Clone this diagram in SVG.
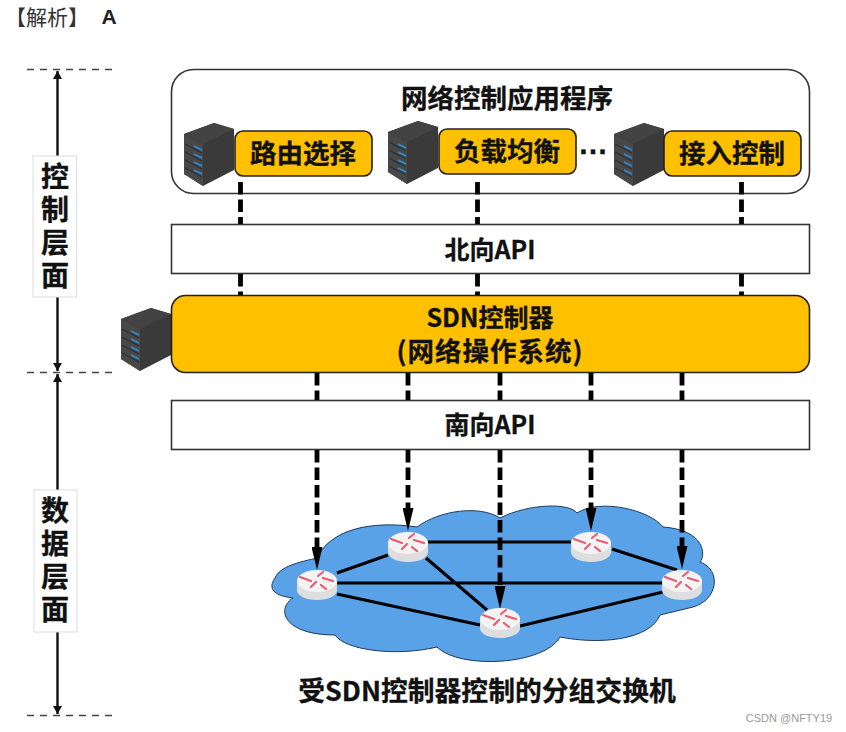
<svg xmlns="http://www.w3.org/2000/svg" width="846" height="732" viewBox="0 0 846 732">
<style>
text{font-family:"Noto Sans CJK SC","Liberation Sans",sans-serif;font-weight:700;fill:#111;text-anchor:middle;stroke:#111;stroke-width:.3}
.box{fill:#fff;stroke:#333;stroke-width:1.6}
.yel{fill:#ffc000;stroke:#222;stroke-width:1.6}
.dash{stroke:#000;stroke-width:4.8;stroke-dasharray:12.5 5;fill:none}
.link{stroke:#000;stroke-width:3.2;fill:none}
.guide{stroke:#444;stroke-width:1.6;stroke-dasharray:7 6;fill:none}
.axis{stroke:#111;stroke-width:2.4;fill:none}
.t26{font-size:26.500px}
.api{font-size:25px}
.side{font-size:28px;writing-mode:vertical-rl;letter-spacing:5px}
</style>
<defs>
<marker id="axisArrow" markerUnits="userSpaceOnUse" markerWidth="10" markerHeight="10" refX="8" refY="4.500" orient="auto-start-reverse" viewBox="0 0 10 9"><path d="M0 0L8 4.500L0 9Z" fill="#111"/></marker>
<marker id="dashArrow" markerUnits="userSpaceOnUse" markerWidth="23" markerHeight="11" refX="0" refY="5.500" orient="auto" viewBox="0 0 23 11"><path d="M0 0L23 5.500L0 11Z" fill="#000"/></marker>
<symbol id="server" viewBox="0 0 52 64" width="52" height="64" overflow="visible">
<path d="M0 11L30 0L50 6L50 47L19 63L0 51Z" fill="#3a3a3a"/>
<path d="M0 11L19 21L19 63L0 51Z" fill="#484848"/>
<path d="M19 21L50 6L30 0L0 11Z" fill="#434343"/>
<path stroke="#2f2f2f" stroke-width="1.200" d="M1 21L18 30M1 29L18 38M1 37L18 46M1 45L18 54"/>
<path stroke="#2b8ecb" stroke-width="1.700" d="M10 23L18 27M10 31L18 35M10 39L18 43M10 47L18 51"/>
</symbol>
<symbol id="router" viewBox="0 0 40 30" width="40" height="30" overflow="visible">
<path d="M0 11V20C0 26 9 30 20 30S40 26 40 20V11Z" fill="#dedede"/>
<ellipse cx="20" cy="11" rx="20" ry="11" fill="#f3f3f3"/>
<path stroke="#ea5a70" stroke-width="2.200" stroke-linecap="round" fill="none" d="M3 7L14 11M36 11L26 8M21 6L26 2M14 17L19 12M29 19L24 15"/>
</symbol>
</defs>
<rect width="846" height="732" fill="#fff"/>
<g id="header">
<text x="47" y="25" style="font-size:21px;font-weight:400;fill:#333;stroke:none">【解析】</text>
<text x="109" y="24" style="font-size:21px;font-family:'Liberation Sans',sans-serif;fill:#222;stroke:none">A</text>
</g>
<g id="guides">
<path class="guide" d="M27 69.500H113M27 372.500H113M27 715.500H113"/>
<path class="axis" d="M57.500 71V156M57.500 297V371" marker-start="url(#axisArrow)" marker-end="url(#axisArrow)"/>
<path class="axis" d="M57.500 374V490M57.500 632V714" marker-start="url(#axisArrow)" marker-end="url(#axisArrow)"/>
</g>
<g id="control-plane-label">
<rect x="33" y="156" width="43.500" height="141" fill="#fff" stroke="#ddd"/>
<text class="side" x="55" y="228">控制层面</text>
</g>
<g id="data-plane-label">
<rect x="34" y="490" width="43" height="142" fill="#fff" stroke="#ddd"/>
<text class="side" x="55" y="562">数据层面</text>
</g>
<g id="cloud">
<path d="M275 578C280 566 300 562 317 558C330 530 370 520 417 527C440 510 480 505 500 518C530 503 570 503 577 513C600 498 650 510 663 527C705 530 706 555 700 562C722 570 718 600 693 607L660 615C650 640 600 645 560 637C545 665 460 670 437 647C395 657 345 650 335 635C285 635 275 610 293 598C268 595 270 585 275 578Z" fill="#5aa2e8" stroke="#1f3a5a" stroke-width="1"/>
</g>
<g id="app-layer">
<rect class="box" x="171.500" y="69.500" width="638" height="124" rx="22"/>
<text class="t26" x="507" y="108">网络控制应用程序</text>
<text x="593" y="154" style="font-size:30px;font-family:'Liberation Sans',sans-serif">…</text>
</g>
<g id="app-routing">
<use href="#server" x="184" y="123"/>
<rect class="yel" x="235" y="131" width="137" height="45" rx="8"/>
<text class="t26" x="303" y="163">路由选择</text>
</g>
<g id="app-balance">
<use href="#server" x="388" y="121"/>
<rect class="yel" x="439" y="129" width="137" height="45" rx="8"/>
<text class="t26" x="507" y="161">负载均衡</text>
</g>
<g id="app-access">
<use href="#server" x="614" y="123"/>
<rect class="yel" x="664" y="131" width="137" height="45" rx="8"/>
<text class="t26" x="732" y="163">接入控制</text>
</g>
<g id="north-api">
<rect class="box" x="171.500" y="224.500" width="638" height="49"/>
<text class="api" x="490" y="259">北向API</text>
</g>
<g id="sdn-controller">
<use href="#server" x="121" y="308"/>
<rect class="yel" x="171.500" y="295.500" width="638" height="77" rx="14"/>
<text x="490" y="327" style="font-size:25px"><tspan x="490" y="327">SDN控制器</tspan><tspan x="490" y="361" style="font-size:26.500px;letter-spacing:1px">(网络操作系统)</tspan></text>
</g>
<g id="south-api">
<rect class="box" x="171.500" y="400.500" width="638" height="49"/>
<text class="api" x="490" y="434">南向API</text>
</g>
<g id="connectors">
<path class="link" d="M337 573L388 555M428 542H571M612 549L677 570M337 583H663M337 594L480 625M520 626L663 592M426 558L487 610"/>
<path class="dash" d="M240.500 182V224M477.500 182V224M741.500 182V224"/>
<path class="dash" d="M240.500 274V295M477.500 274V295M741.500 274V295"/>
<path class="dash" d="M317 373V400M408 373V400M500 373V400M591 373V400M682 373V400"/>
<path class="dash" marker-end="url(#dashArrow)" d="M317 450V547"/>
<path class="dash" marker-end="url(#dashArrow)" d="M408 450V508"/>
<path class="dash" marker-end="url(#dashArrow)" d="M500 450V586"/>
<path class="dash" marker-end="url(#dashArrow)" d="M591 450V508"/>
<path class="dash" marker-end="url(#dashArrow)" d="M682 450V546"/>
</g>
<g id="routers">
<g id="router-1"><use href="#router" x="297" y="570"/></g>
<g id="router-2"><use href="#router" x="388" y="532"/></g>
<g id="router-3"><use href="#router" x="571" y="532"/></g>
<g id="router-4"><use href="#router" x="662" y="570"/></g>
<g id="router-5"><use href="#router" x="480" y="608"/></g>
</g>
<g id="caption">
<text x="487" y="701" style="font-size:26.800px">受SDN控制器控制的分组交换机</text>
</g>
<g id="watermark">
<text x="789" y="722" style="font-size:11px;font-weight:400;font-family:'Liberation Sans',sans-serif;fill:#999;stroke:none">CSDN @NFTY19</text>
</g>
</svg>
